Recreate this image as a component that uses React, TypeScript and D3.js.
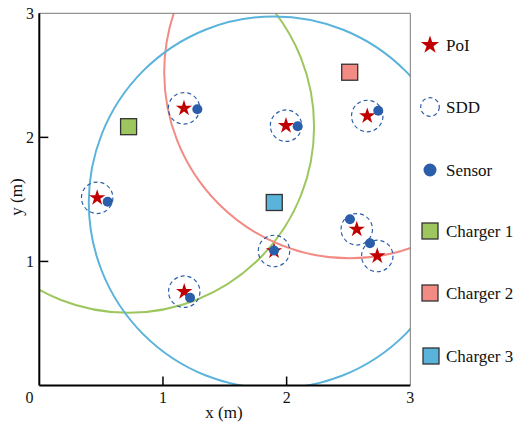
import React from "react";
import * as d3 from "d3";

const poiX = [1.17, 1.995, 2.652, 0.468, 1.172, 1.898, 2.567, 2.733];
const poiY = [2.234, 2.094, 2.172, 1.513, 0.756, 1.084, 1.259, 1.044];
const sensorX = [1.278, 2.089, 2.741, 0.553, 1.219, 1.898, 2.512, 2.674];
const sensorY = [2.226, 2.089, 2.215, 1.481, 0.708, 1.088, 1.34, 1.146];
const chargerNames = ["Charger 1", "Charger 2", "Charger 3"];
const chargerX = [0.722, 2.51, 1.9];
const chargerY = [2.086, 2.525, 1.475];
const chargerRange = [1.5, 1.5, 1.5];
const sddRadius = 0.127;
const tickValues = [1, 2, 3];

const chargerFill = ["#9DC75E", "#F28B84", "#5AB3DB"];
const chargerLine = ["#9DC75E", "#F28B84", "#5AB3DB"];
const STAR = "#C00000";
const SENSOR = "#2B5EAA";
const FONT = "'Liberation Serif', 'Times New Roman', serif";

export default function App() {
  const W = 514, H = 423;
  const x = d3.scaleLinear().domain([0, 3]).range([39.3, 410.3]);
  const y = d3.scaleLinear().domain([0, 3]).range([385.5, 13.3]);
  const rx = (v: number) => x(v) - x(0);
  const ry = (v: number) => y(0) - y(v);
  const kaStar = 0.8908130915292852;
  const starPath = (R: number) => d3.symbol(d3.symbolStar, (R * R) / kaStar)() as string;
  const legendRows = [45, 107, 170, 231, 293, 356];
  const legendX = 430;
  const textX = 446;

  return (
    <svg width={W} height={H} style={{ position: "absolute", left: 0, top: 0, background: "#fff" }} fontFamily={FONT}>
      <defs>
        <clipPath id="plot">
          <rect x={x(0)} y={y(3)} width={x(3) - x(0)} height={y(0) - y(3)} />
        </clipPath>
      </defs>
      <g clipPath="url(#plot)">
        {chargerX.map((cx, i) => (
          <ellipse key={"rng" + i} cx={x(cx)} cy={y(chargerY[i])} rx={rx(chargerRange[i])} ry={ry(chargerRange[i])}
            fill="none" stroke={chargerLine[i]} strokeWidth={2} />
        ))}
      </g>
      {/* frame */}
      <line x1={x(0)} x2={x(3)} y1={y(3)} y2={y(3)} stroke="#7a7a7a" strokeWidth={1} />
      <line x1={x(3)} x2={x(3)} y1={y(3)} y2={y(0)} stroke="#7a7a7a" strokeWidth={1} />
      <line x1={x(0)} x2={x(3)} y1={y(0)} y2={y(0)} stroke="#000" strokeWidth={2} />
      <line x1={x(0)} x2={x(0)} y1={y(3)} y2={y(0)} stroke="#000" strokeWidth={2} />
      {tickValues.slice(0, 2).map((t) => (
        <g key={"tk" + t}>
          <line x1={x(t)} x2={x(t)} y1={y(0)} y2={y(0) - 9} stroke="#000" strokeWidth={1.5} />
          <line x1={x(0)} x2={x(0) + 9} y1={y(t)} y2={y(t)} stroke="#000" strokeWidth={1.5} />
        </g>
      ))}
      {tickValues.map((t) => (
        <g key={"tl" + t} fontSize={16} fill="#111">
          <text x={x(t)} y={403} textAnchor="middle">{t}</text>
          <text x={34} y={y(t) + 5.5} textAnchor="end">{t}</text>
        </g>
      ))}
      <text x={29.5} y={403} textAnchor="middle" fontSize={16} fill="#111">0</text>
      <text x={224} y={418} textAnchor="middle" fontSize={17} fill="#111">x (m)</text>
      <text transform={`translate(22,197) rotate(-90)`} textAnchor="middle" fontSize={17} fill="#111">y (m)</text>

      {/* SDD */}
      {poiX.map((px, i) => (
        <ellipse key={"sdd" + i} cx={x(px)} cy={y(poiY[i])} rx={rx(sddRadius)} ry={ry(sddRadius)}
          fill="none" stroke={SENSOR} strokeWidth={1.2} strokeDasharray="4,3" />
      ))}
      {/* PoI */}
      {poiX.map((px, i) => (
        <path key={"poi" + i} d={starPath(8.6)} transform={`translate(${x(px)},${y(poiY[i])})`} fill={STAR} />
      ))}
      {/* sensors */}
      {sensorX.map((sx, i) => (
        <circle key={"s" + i} cx={x(sx)} cy={y(sensorY[i])} r={5} fill={SENSOR} />
      ))}
      {/* chargers */}
      {chargerX.map((cx, i) => (
        <rect key={"c" + i} x={x(cx) - 8} y={y(chargerY[i]) - 8} width={16} height={16}
          fill={chargerFill[i]} stroke="#333" strokeWidth={1.3} />
      ))}

      {/* legend */}
      <g fontSize={17} fill="#111">
        <path d={starPath(9.6)} transform={`translate(${legendX},${legendRows[0]})`} fill={STAR} />
        <text x={textX} y={legendRows[0] + 5.5}>PoI</text>
        <circle cx={legendX} cy={legendRows[1]} r={9.3} fill="none" stroke={SENSOR} strokeWidth={1.2} strokeDasharray="4,3" />
        <text x={textX} y={legendRows[1] + 5.5}>SDD</text>
        <circle cx={legendX} cy={legendRows[2]} r={6.5} fill={SENSOR} />
        <text x={textX} y={legendRows[2] + 5.5}>Sensor</text>
        {chargerNames.map((n, i) => (
          <g key={"lg" + i}>
            <rect x={legendX - 8 + (i === 2 ? 1 : 0)} y={legendRows[3 + i] - 8} width={16} height={16}
              fill={chargerFill[i]} stroke="#333" strokeWidth={1.3} />
            <text x={textX} y={legendRows[3 + i] + 5.5}>{n}</text>
          </g>
        ))}
      </g>
    </svg>
  );
}
